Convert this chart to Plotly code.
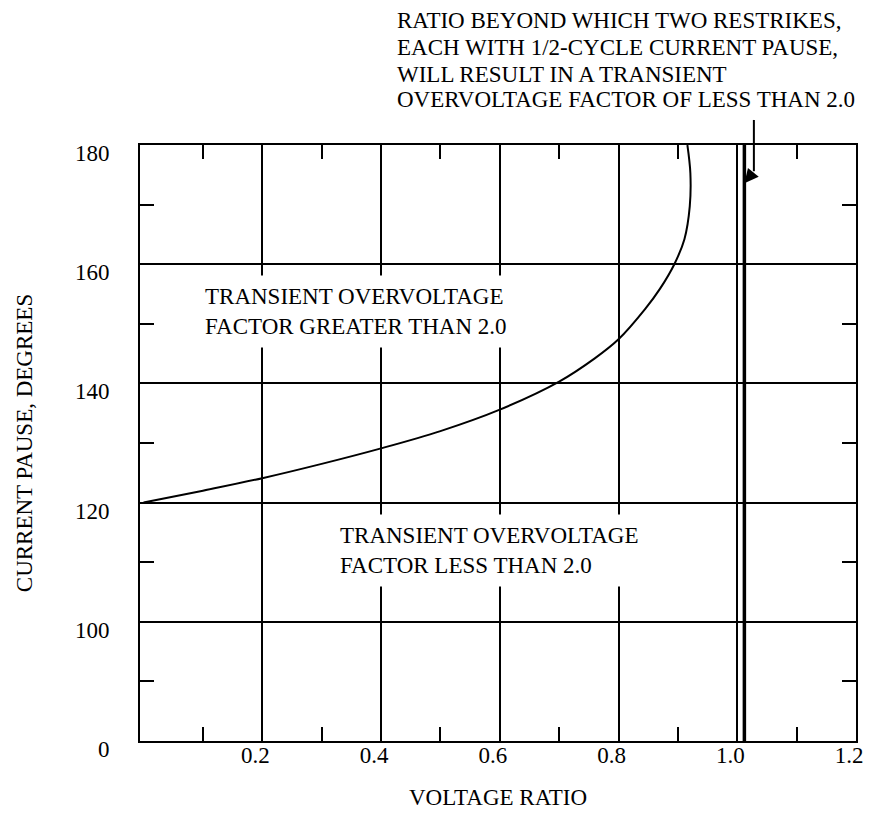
import plotly.graph_objects as go

# ---- data ----
curve_x = [0.0, 0.1, 0.2, 0.3, 0.4, 0.5, 0.6, 0.7, 0.76, 0.8, 0.845, 0.87, 0.894, 0.911, 0.92, 0.921, 0.916]
curve_y = [120, 122, 124.1, 126.5, 129.1, 132, 135.6, 140.3, 144.2, 147.4, 152.5, 155.9, 160, 164.2, 169.7, 175.3, 180]

limit_ratio = 1.012           # ratio beyond which two restrikes give factor < 2.0

x_tickvals = [0.2, 0.4, 0.6, 0.8, 1.0, 1.2]
x_ticktext = ["0.2", "0.4", "0.6", "0.8", "1.0", "1.2"]
x_minor = [0.1, 0.3, 0.5, 0.7, 0.9, 1.1]

# y axis is broken: "0" drawn where 80 would be
y_tickvals = [80, 100, 120, 140, 160, 180]
y_ticktext = ["0", "100", "120", "140", "160", "180"]
y_minor = [90, 110, 130, 150, 170]

note_lines = ["RATIO BEYOND WHICH TWO RESTRIKES,",
              "EACH WITH 1/2-CYCLE CURRENT PAUSE,",
              "WILL RESULT IN A TRANSIENT",
              "OVERVOLTAGE FACTOR OF LESS THAN 2.0"]

FONT = "Liberation Serif, Times New Roman, serif"
FS = 23

fig = go.Figure()

fig.add_trace(go.Scatter(x=curve_x, y=curve_y, mode="lines",
                         line=dict(color="black", width=2, shape="spline", smoothing=1.0),
                         hoverinfo="skip", showlegend=False))
fig.add_trace(go.Scatter(x=[limit_ratio, limit_ratio], y=[80, 180], mode="lines",
                         line=dict(color="black", width=3.5),
                         hoverinfo="skip", showlegend=False))

axis_common = dict(showline=True, linecolor="black", linewidth=2, mirror="allticks",
                   showgrid=True, gridcolor="black", gridwidth=1.5, zeroline=False,
                   automargin=False, ticklabeloverflow="allow",
                   ticks="", tickfont=dict(family=FONT, size=FS, color="black"))

fig.update_xaxes(range=[-0.006, 1.2], tickvals=x_tickvals, ticktext=x_ticktext,
                 minor=dict(tickvals=x_minor, ticks="inside", ticklen=14,
                            tickcolor="black", tickwidth=2, showgrid=False),
                 ticklabelstandoff=-8, ticklabelshift=-7,
                 title=dict(text="VOLTAGE RATIO", font=dict(family=FONT, size=FS, color="black"),
                            standoff=34),
                 **axis_common)
fig.update_yaxes(range=[80, 180], tickvals=y_tickvals, ticktext=y_ticktext,
                 minor=dict(tickvals=y_minor, ticks="inside", ticklen=14,
                            tickcolor="black", tickwidth=2, showgrid=False),
                 ticklabelstandoff=24, ticklabelshift=8,
                 title=dict(text="CURRENT PAUSE, DEGREES", font=dict(family=FONT, size=FS, color="black"),
                            standoff=36),
                 **axis_common)

txt_font = dict(family=FONT, size=FS, color="black")
fig.add_annotation(x=0.088, y=152, xref="x", yref="y", xanchor="left", yanchor="middle",
                   align="left", showarrow=False, bgcolor="white", borderpad=8,
                   text="TRANSIENT OVERVOLTAGE<br>FACTOR GREATER THAN 2.0", font=txt_font)
fig.add_annotation(x=0.316, y=112, xref="x", yref="y", xanchor="left", yanchor="middle",
                   align="left", showarrow=False, bgcolor="white", borderpad=8,
                   text="TRANSIENT OVERVOLTAGE<br>FACTOR LESS THAN 2.0", font=txt_font)

note_y = [1.2081, 1.1644, 1.1183, 1.0763]
for line, yy in zip(note_lines, note_y):
    fig.add_annotation(x=0.4235, y=yy, xref="x", yref="paper", xanchor="left", yanchor="middle",
                       align="left", showarrow=False, text=line, font=txt_font)

# pointer: vertical stem then short diagonal arrow to the limit line
stem_x = 1.028
fig.add_shape(type="line", xref="x", yref="paper", x0=stem_x, x1=stem_x, y0=1.042, y1=0.956,
              line=dict(color="black", width=2))
fig.add_annotation(x=limit_ratio, y=173.6, xref="x", yref="y", ax=10, ay=-12,
                   axref="pixel", ayref="pixel", text="", showarrow=True,
                   arrowhead=2, arrowsize=1.4, arrowwidth=2, arrowcolor="black")

# page body has an 8px margin, so the figure is shrunk to avoid page scrolling
fig.update_layout(width=857, height=802, plot_bgcolor="white", paper_bgcolor="white",
                  margin=dict(l=132, r=9, t=137, b=69), showlegend=False,
                  font=dict(family=FONT, color="black"))

fig.write_html("out.html")
